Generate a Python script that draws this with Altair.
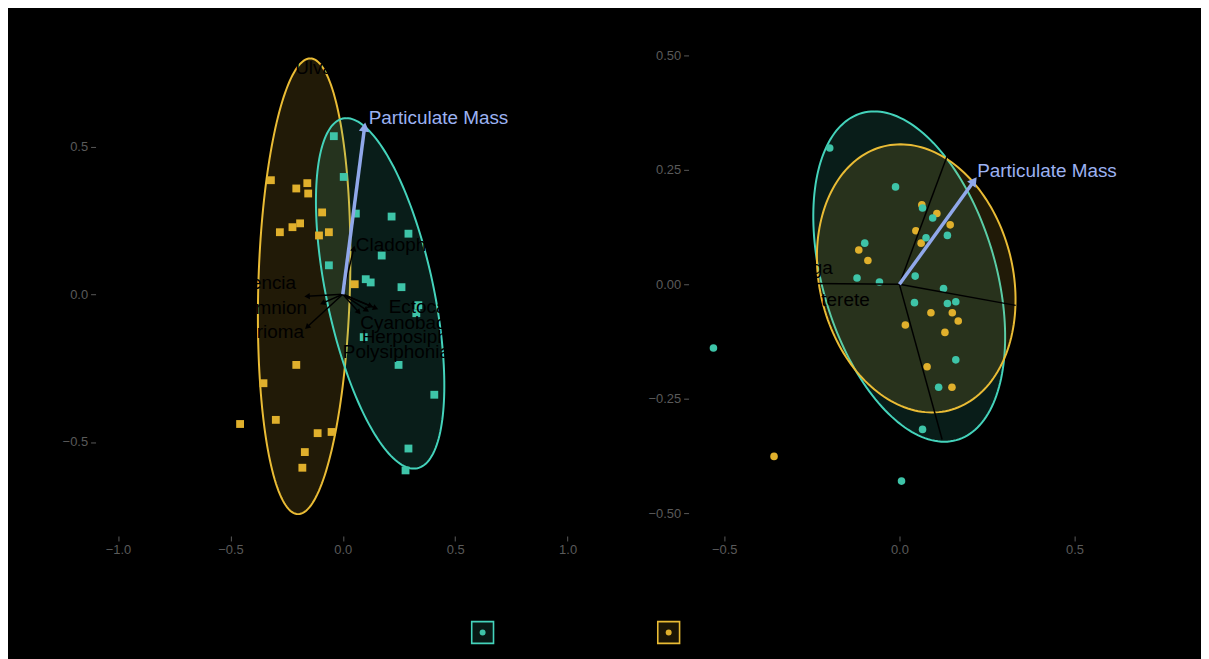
import altair as alt
import numpy as np
import pandas as pd

# ---------------- palette / style ----------------
TEAL = "#3ec4a8"
YELLOW = "#e0b02c"
TEAL_EDGE = "#44d3bb"
YELLOW_EDGE = "#eabc35"
BLUE = "#90a8ea"
BLUE_TEXT = "#9cb2f2"
AXIS_GREY = "#5a5a5a"
FONT = "Liberation Sans"

groups = ["g1", "g2"]

# ---------------- left panel data ----------------
L_teal_x = [-0.040, 0.004, 0.058, 0.217, 0.292, 0.173, -0.062, 0.102, 0.124, 0.261, 0.336, 0.327, 0.093, 0.248, 0.407, 0.292, 0.279]
L_teal_y = [0.535, 0.397, 0.273, 0.263, 0.205, 0.131, 0.098, 0.051, 0.040, 0.024, -0.037, -0.064, -0.145, -0.239, -0.340, -0.522, -0.596]
L_yel_x = [-0.320, -0.207, -0.158, -0.154, -0.280, -0.224, -0.190, -0.092, -0.106, -0.062, 0.053, -0.207, -0.353, -0.457, -0.298, -0.112, -0.050, -0.169, -0.180]
L_yel_y = [0.386, 0.358, 0.376, 0.341, 0.210, 0.227, 0.240, 0.277, 0.199, 0.210, 0.034, -0.239, -0.301, -0.439, -0.425, -0.470, -0.466, -0.534, -0.587]

# ellipses: centre, first and second conjugate semi-diameters
L_ell_group = ["g2", "g1"]
L_ell_cx = [-0.172, 0.166]
L_ell_cy = [0.027, 0.003]
L_ell_ax = [0.027, -0.150]
L_ell_ay = [0.771, 0.593]
L_ell_bx = [0.204, 0.243]
L_ell_by = [0.0, 0.0]

L_blue_tip = [0.097, 0.566]
L_blue_label = "Particulate Mass"
L_blue_label_pos = [0.115, 0.596]

L_sp_names = ["Laurencia", "Callithamnion", "Chondrioma", "Cladophora", "Ectocarpus", "Cyanobacteria", "Herposiphonia", "Polysiphonia"]
L_sp_tip_x = [-0.159, -0.090, -0.159, 0.049, 0.146, 0.124, 0.106, 0.071]
L_sp_tip_y = [-0.007, -0.030, -0.111, 0.155, -0.047, -0.040, -0.054, -0.061]
L_sp_lab_x = [-0.208, -0.159, -0.173, 0.058, 0.204, 0.078, 0.084, 0.000]
L_sp_lab_y = [0.037, -0.045, -0.128, 0.165, -0.044, -0.098, -0.145, -0.195]
L_sp_align = ["right", "right", "right", "left", "left", "left", "left", "left"]
L_top_label = "Ulva"
L_top_label_pos = [-0.128, 0.764]

# ---------------- right panel data ----------------
R_teal_x = [-0.199, -0.011, 0.066, 0.095, 0.137, 0.076, -0.099, -0.121, -0.057, 0.045, 0.126, 0.043, 0.137, 0.161, 0.161, 0.112, 0.066, -0.531, 0.006]
R_teal_y = [0.298, 0.213, 0.167, 0.145, 0.107, 0.102, 0.090, 0.014, 0.005, 0.018, -0.009, -0.040, -0.042, -0.038, -0.165, -0.225, -0.317, -0.139, -0.430]
R_yel_x = [0.064, 0.107, 0.145, 0.047, 0.062, -0.116, -0.090, 0.090, 0.151, 0.168, 0.017, 0.130, 0.079, 0.150, -0.358]
R_yel_y = [0.174, 0.155, 0.130, 0.117, 0.090, 0.075, 0.052, -0.062, -0.062, -0.080, -0.089, -0.105, -0.180, -0.225, -0.376]

R_ell_group = ["g1", "g2"]
R_ell_cx = [0.028, 0.048]
R_ell_cy = [0.017, 0.013]
R_ell_ax = [-0.100, -0.045]
R_ell_ay = [0.361, 0.293]
R_ell_bx = [0.255, 0.280]
R_ell_by = [0.0, 0.0]

R_blue_tip = [0.213, 0.226]
R_blue_label_pos = [0.222, 0.248]

R_line_x = [-0.250, 0.332, 0.136, 0.122]
R_line_y = [0.002, -0.046, 0.280, -0.339]
R_lab_names = ["Filamentous alga", "Corticated terete"]
R_lab_x = [-0.190, -0.085]
R_lab_y = [0.035, -0.035]

# ---------------- axes / scales ----------------
PW, PH = 497, 504
L_xdom = [-1.1, 1.1]
L_ydom = [-0.818, 0.879]
R_xdom = [-0.602, 0.810]
R_ydom = [-0.550, 0.546]
L_xticks = [-1.0, -0.5, 0.0, 0.5, 1.0]
L_yticks = [-0.5, 0.0, 0.5]
R_xticks = [-0.5, 0.0, 0.5]
R_yticks = [-0.5, -0.25, 0.0, 0.25, 0.5]

color_scale = alt.Scale(domain=groups, range=[TEAL, YELLOW])
stroke_scale = alt.Scale(domain=groups, range=[TEAL_EDGE, YELLOW_EDGE])
fill_scale = alt.Scale(domain=groups, range=[TEAL, YELLOW])


def ellipse_df(gs, cx, cy, ax, ay, bx, by):
    t = np.linspace(0, 2 * np.pi, 181)
    frames = []
    for k, g in enumerate(gs):
        frames.append(pd.DataFrame({
            "g": g,
            "k": k,
            "i": np.arange(len(t)),
            "x": cx[k] + ax[k] * np.cos(t) + bx[k] * np.sin(t),
            "y": cy[k] + ay[k] * np.cos(t) + by[k] * np.sin(t),
        }))
    return pd.concat(frames, ignore_index=True)


def head_angle(dx, dy, xdom, ydom):
    sx = PW / (xdom[1] - xdom[0])
    sy = PH / (ydom[1] - ydom[0])
    return float(np.degrees(np.arctan2(dx * sx, dy * sy)) % 360)


def panel(teal_x, teal_y, yel_x, yel_y, ell, xdom, ydom, xticks, yticks, xfmt, yfmt,
          blue_tip, blue_lab_pos, point_shape, arrows, labels):
    xs = alt.Scale(domain=xdom, nice=False, zero=False)
    ys = alt.Scale(domain=ydom, nice=False, zero=False)
    X = lambda f="x": alt.X(f"{f}:Q", scale=xs, axis=alt.Axis(values=xticks, format=xfmt, title=None))
    Y = lambda f="y": alt.Y(f"{f}:Q", scale=ys, axis=alt.Axis(values=yticks, format=yfmt, title=None))

    ell_layer = alt.Chart(ell).mark_line(strokeWidth=2, fillOpacity=0.15).encode(
        x=X(), y=Y(), order="i:Q", detail="k:N",
        stroke=alt.Stroke("g:N", scale=stroke_scale, legend=None),
        fill=alt.Fill("g:N", scale=fill_scale, legend=None),
    )

    pts = pd.concat([
        pd.DataFrame({"x": yel_x, "y": yel_y, "g": "g2"}),
        pd.DataFrame({"x": teal_x, "y": teal_y, "g": "g1"}),
    ], ignore_index=True)
    if point_shape == "square":
        pmark = alt.Chart(pts).mark_square(size=62, opacity=1)
    else:
        pmark = alt.Chart(pts).mark_circle(size=58, opacity=1)
    pt_layer = pmark.encode(x=X(), y=Y(), color=alt.Color("g:N", scale=color_scale, legend=None))

    layers = [ell_layer, pt_layer]

    # black species arrows
    if arrows is not None:
        adf = pd.DataFrame({"x0": 0.0, "y0": 0.0, "x": arrows[0], "y": arrows[1]})
        layers.append(alt.Chart(adf).mark_rule(color="#000000", strokeWidth=1.5).encode(
            x=X("x0"), y=Y("y0"), x2="x:Q", y2="y:Q"))
        if arrows[2]:
            adf["ang"] = [head_angle(a, b, xdom, ydom) for a, b in zip(arrows[0], arrows[1])]
            layers.append(alt.Chart(adf).mark_point(shape="triangle-up", filled=True, size=40,
                                                    color="#000000", opacity=1).encode(
                x=X(), y=Y(), angle=alt.Angle("ang:Q", scale=None)))

    # blue arrow
    bdf = pd.DataFrame({"x0": [0.0], "y0": [0.0], "x": [blue_tip[0]], "y": [blue_tip[1]],
                        "ang": [head_angle(blue_tip[0], blue_tip[1], xdom, ydom)]})
    layers.append(alt.Chart(bdf).mark_rule(color=BLUE, strokeWidth=3.5).encode(
        x=X("x0"), y=Y("y0"), x2="x:Q", y2="y:Q"))
    layers.append(alt.Chart(bdf).mark_point(shape="triangle-up", filled=True, size=110,
                                            color=BLUE, opacity=1).encode(
        x=X(), y=Y(), angle=alt.Angle("ang:Q", scale=None)))
    ldf = pd.DataFrame({"x": [blue_lab_pos[0]], "y": [blue_lab_pos[1]], "t": [L_blue_label]})
    layers.append(alt.Chart(ldf).mark_text(align="left", baseline="middle", font=FONT,
                                           fontSize=19, color=BLUE_TEXT).encode(
        x=X(), y=Y(), text="t:N"))

    # black labels
    for al in ["left", "right", "center"]:
        sub = labels[labels["align"] == al]
        if len(sub):
            layers.append(alt.Chart(sub).mark_text(align=al, baseline="middle", font=FONT,
                                                   fontSize=19, color="#000000").encode(
                x=X(), y=Y(), text="t:N"))

    return alt.layer(*layers).properties(width=PW, height=PH)


L_ell = ellipse_df(L_ell_group, L_ell_cx, L_ell_cy, L_ell_ax, L_ell_ay, L_ell_bx, L_ell_by)
R_ell = ellipse_df(R_ell_group, R_ell_cx, R_ell_cy, R_ell_ax, R_ell_ay, R_ell_bx, R_ell_by)

L_labels = pd.DataFrame({"x": L_sp_lab_x + [L_top_label_pos[0]],
                         "y": L_sp_lab_y + [L_top_label_pos[1]],
                         "t": L_sp_names + [L_top_label],
                         "align": L_sp_align + ["center"]})
R_labels = pd.DataFrame({"x": R_lab_x, "y": R_lab_y, "t": R_lab_names, "align": ["right", "right"]})

left = panel(L_teal_x, L_teal_y, L_yel_x, L_yel_y, L_ell, L_xdom, L_ydom, L_xticks, L_yticks,
             ".1f", ".1f", L_blue_tip, L_blue_label_pos, "square",
             (L_sp_tip_x, L_sp_tip_y, True), L_labels)
right = panel(R_teal_x, R_teal_y, R_yel_x, R_yel_y, R_ell, R_xdom, R_ydom, R_xticks, R_yticks,
              ".1f", ".2f", R_blue_tip, R_blue_label_pos, "circle",
              (R_line_x, R_line_y, False), R_labels)

# ---------------- legend (keys only, no labels) ----------------
leg_df = pd.DataFrame({"g": groups})
leg_x = alt.X("g:N", scale=alt.Scale(type="point", domain=groups, range=[389, 576], padding=0), axis=None)
leg_box = alt.Chart(leg_df).mark_square(size=480, strokeWidth=1.6, fillOpacity=0.12).encode(
    x=leg_x, y=alt.value(12),
    stroke=alt.Stroke("g:N", scale=stroke_scale, legend=None),
    fill=alt.Fill("g:N", scale=fill_scale, legend=None))
leg_dot = alt.Chart(leg_df).mark_circle(size=36, opacity=1).encode(
    x=leg_x, y=alt.value(12), color=alt.Color("g:N", scale=color_scale, legend=None))
legend = alt.layer(leg_box, leg_dot).properties(width=620, height=24)

top = alt.hconcat(left, right, spacing=58)
chart = alt.vconcat(top, legend, spacing=61).properties(
    padding={"left": 54, "top": 25, "right": 18, "bottom": 15},
    background="#000000",
).configure_view(strokeOpacity=0).configure_axis(
    grid=False, domain=False, labelColor=AXIS_GREY, tickColor=AXIS_GREY,
    labelFont=FONT, labelFontSize=13, tickSize=5, labelPadding=3, tickWidth=1,
)

chart.save("out.html", embed_options={"renderer": "svg", "actions": False})
